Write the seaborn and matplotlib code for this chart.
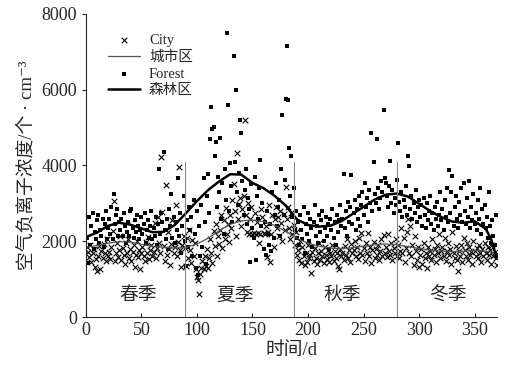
import numpy as np
import pandas as pd
import seaborn as sns
import matplotlib.pyplot as plt

# daily air negative ion concentration (per cm^3), day 1..370
city = [
    1850, 1720, 1580, 1900, 1450, 1680, 1790, 1320, 1530, 1210,
    1620, 1880, 1270, 1750, 1560, 1930, 1680, 1480, 2050, 1600,
    1720, 1540, 1850, 2280, 3060, 1470, 1690, 1950, 1580, 1760,
    2150, 1520, 1830, 1640, 1390, 1950, 1700, 2070, 1560, 1800,
    1480, 1720, 1910, 1330, 1650, 2020, 1590, 1780, 1260, 1700,
    1850, 1600, 1470, 1990, 1680, 2120, 1540, 1760, 1890, 1620,
    1720, 2480, 1560, 1830, 2650, 1950, 1700, 4230, 2780, 1880,
    1480, 3480, 1650, 2240, 1790, 1380, 1920, 2560, 1700, 1850,
    2950, 1600, 1980, 3970, 1760, 1330, 1900, 2150, 1820, 1350,
    2080, 1550, 2300, 1780, 1420, 2040, 1600, 1950, 1280, 1050,
    980, 620, 1150, 1300, 1480, 1260, 1620, 1350, 1800, 1290,
    1560, 2050, 1700, 1420, 2280, 1880, 2450, 1610, 2150, 1940,
    2300, 2700, 1820, 2550, 2060, 2890, 2200, 2450, 1980, 2700,
    2350, 3100, 3500, 2800, 2150, 4340, 2600, 2980, 3150, 2400,
    2850, 3200, 5200, 2700, 2250, 3000, 2180, 2600, 2900, 2200,
    2220, 2750, 2180, 2500, 2230, 1950, 2200, 2860, 2650, 2210,
    2180, 2400, 1590, 2240, 2950, 1460, 2200, 2700, 1850, 2580,
    2900, 2350, 2650, 2150, 2800, 2480, 2000, 2720, 2300, 3440,
    2600, 2900, 2350, 2050, 2750, 2200, 2420, 1900, 2250, 1650,
    1780, 1500, 2000, 1420, 1850, 1600, 1380, 1700, 1450, 1900,
    1550, 1640, 1170, 1720, 1480, 1820, 1560, 1400, 1680, 1950,
    1500, 1750, 1600, 1420, 1860, 1650, 1530, 1780, 1450, 1700,
    1620, 1900, 1480, 1740, 1560, 1680, 1350, 1270, 1800, 1600,
    1700, 1520, 1880, 1640, 2050, 1560, 1780, 1450, 1920, 1680,
    1760, 2000, 1600, 1850, 1540, 2100, 1700, 2230, 1650, 1820,
    1480, 1950, 1700, 2230, 1600, 1850, 1420, 1760, 1980, 1550,
    1800, 1650, 1900, 1520, 1750, 2050, 1600, 2160, 1700, 1850,
    1580, 2200, 1750, 1650, 1950, 1500, 1820, 1700, 2050, 1600,
    1900, 1550, 1750, 2350, 1680, 2100, 1450, 1820, 2250, 2600,
    1700, 2400, 1600, 1900, 1380, 2150, 1750, 1500, 1850, 1320,
    1650, 1800, 1400, 1950, 1550, 1700, 1300, 1850, 1600, 1750,
    1500, 2050, 1650, 1800, 1450, 1900, 1700, 2200, 1550, 1750,
    1850, 1600, 2100, 1480, 1750, 1950, 1650, 1800, 1400, 2250,
    1700, 1550, 1880, 1500, 1220, 1750, 1620, 1900, 1450, 2100,
    1780, 1600, 1950, 1500, 1850, 1650, 1720, 1400, 2000, 1750,
    1600, 1820, 1550, 1900, 1680, 1450, 1800, 1620, 1950, 1700,
    1500, 1850, 1650, 1780, 1400, 1900, 1600, 1720, 1550, 1380,
]
forest = [
    2100, 1420, 2650, 1900, 2400, 2750, 1800, 2250, 2050, 2550,
    2700, 1950, 2300, 2150, 2600, 1850, 2450, 2800, 2050, 2350,
    2600, 2200, 2900, 2050, 3240, 2450, 2700, 2850, 2150, 2500,
    2300, 2600, 2150, 2750, 2400, 1950, 2250, 2500, 2150, 2800,
    2850, 2350, 2100, 2550, 2250, 2700, 2400, 2050, 2300, 2650,
    2200, 2450, 2750, 1950, 2300, 2550, 2100, 2400, 2800, 2050,
    2350, 2150, 2650, 1900, 2450, 3900, 2200, 2750, 2500, 4360,
    2300, 2050, 2600, 1800, 2850, 2400, 3250, 2100, 2650, 1950,
    2500, 2300, 3670, 2150, 2750, 1700, 2400, 3200, 2000, 1350,
    2550, 1850, 2900, 2300, 2650, 1600, 3100, 2200, 1300, 2800,
    1100, 2400, 1600, 2950, 1850, 3660, 2500, 1400, 3200, 3770,
    2750, 4690, 5535, 4950, 5010, 4260, 4630, 2900, 3700, 3300,
    4730, 2600, 3550, 2200, 3900, 3100, 7490, 5590, 2800, 4070,
    3450, 2500, 6900, 4100, 5990, 3300, 2950, 3800, 5210, 4860,
    3600, 2700, 3350, 3900, 2450, 3150, 2850, 1450, 3500, 2350,
    2100, 3700, 1500, 3200, 2600, 3400, 4140, 2400, 3000, 1800,
    2500, 1650, 2800, 2200, 1900, 2450, 1750, 3300, 2100, 2700,
    3550, 2400, 2900, 3100, 2150, 3920, 5330, 2700, 3620, 5760,
    7140, 5740, 4460, 3200, 4240, 2650, 3400, 2300, 2800, 2100,
    2500, 1900, 2700, 2300, 2050, 2900, 1700, 2450, 2200, 2750,
    2000, 2600, 2350, 1850, 2500, 2950, 2150, 2400, 1950, 2700,
    2250, 2550, 2800, 2000, 2350, 2650, 2150, 2450, 1800, 2600,
    2300, 2850, 2100, 2500, 1900, 2700, 2250, 2550, 2950, 2400,
    2600, 3780, 2350, 2800, 2150, 3050, 2500, 2900, 3760, 2450,
    2750, 3100, 2300, 2850, 2600, 3200, 2400, 2950, 3300, 2700,
    3550, 2900, 3150, 2500, 3350, 3000, 4870, 2800, 4090, 3250,
    3000, 4690, 3400, 2850, 3150, 3600, 3300, 5460, 3670, 3540,
    3200, 2900, 3460, 4120, 3000, 3350, 2750, 3150, 2950, 3620,
    4600, 3050, 2800, 3300, 2650, 3100, 2900, 3450, 2700, 4260,
    3990, 2850, 3200, 2600, 3000, 2750, 3350, 2500, 2900, 3100,
    2650, 2950, 2400, 3150, 2700, 2350, 3000, 2550, 2800, 3200,
    2450, 2750, 2300, 2900, 2600, 3050, 2400, 2700, 3300, 2550,
    2850, 2300, 3100, 2650, 3400, 2500, 3870, 2750, 3300, 3720,
    2400, 2900, 3200, 2600, 2350, 3050, 2700, 3400, 2500, 3550,
    2800, 2450, 3150, 2650, 3600, 2350, 2900, 2550, 3250, 2450,
    2750, 2300, 3100, 2600, 3400, 2200, 2850, 2450, 2950, 2350,
    2650, 2100, 3300, 2400, 1950, 2550, 2150, 1900, 2700, 1650,
]
days = np.arange(1, len(city) + 1)

# fitted trend curves, read every 10 days
curve_days = [0, 10, 20, 30, 40, 50, 60, 70, 80, 90, 100, 110, 120, 130, 140,
              150, 160, 170, 180, 190, 200, 210, 220, 230, 240, 250, 260, 270,
              280, 290, 300, 310, 320, 330, 340, 350, 360, 365, 370]
city_curve = [1840, 1890, 1950, 1990, 1980, 1920, 1870, 1840, 1820, 1840, 1930,
              2080, 2280, 2450, 2540, 2560, 2520, 2420, 2260, 2080, 1950, 1870,
              1820, 1810, 1830, 1870, 1910, 1930, 1910, 1860, 1810, 1770, 1740,
              1730, 1740, 1760, 1740, 1710, 1680]
forest_curve = [2110, 2230, 2410, 2490, 2440, 2340, 2240, 2250, 2430, 2740, 3060,
                3350, 3580, 3770, 3760, 3540, 3400, 3200, 2940, 2580, 2430, 2390,
                2410, 2530, 2720, 2910, 3100, 3230, 3260, 3180, 2990, 2800, 2640,
                2520, 2490, 2530, 2330, 2050, 1550]

season_bounds = [89, 187, 280]
season_names = ['春季', '夏季', '秋季', '冬季']
season_mid = [47, 134, 231, 326]

df = pd.DataFrame({'day': days, 'city': city, 'forest': forest})
cf = pd.DataFrame({'day': curve_days, 'city': city_curve, 'forest': forest_curve})

sns.set_style('ticks')
plt.rcParams['font.family'] = ['Liberation Serif', 'Noto Sans CJK SC', 'DejaVu Sans']

fig = plt.figure(figsize=(5.08, 3.74), dpi=100)
ax = fig.add_axes([0.169, 0.152, 0.809, 0.811])

sns.scatterplot(data=df, x='day', y='city', marker='x', color='black', s=16,
                linewidth=0.8, label='City', ax=ax)
sns.lineplot(data=cf, x='day', y='city', color='#555555', linewidth=0.9,
             label='城市区', ax=ax)
sns.scatterplot(data=df, x='day', y='forest', marker='s', color='black', s=7,
                linewidth=0, label='Forest', ax=ax)
sns.lineplot(data=cf, x='day', y='forest', color='black', linewidth=1.8,
             label='森林区', ax=ax)

for b in season_bounds:
    ax.plot([b, b], [0, 4100], color='#888888', linewidth=0.8)
for name, m in zip(season_names, season_mid):
    ax.text(m, 560, name, ha='center', va='center', fontsize=13.5)

ax.set_xlim(0, 370)
ax.set_ylim(0, 8000)
ax.set_xticks(range(0, 351, 50))
ax.set_yticks(range(0, 8001, 2000))
ax.tick_params(axis='x', direction='in', length=3, labelsize=13)
ax.tick_params(axis='y', direction='out', length=3, labelsize=13)
ax.set_xlabel('时间/d', fontsize=13.5, labelpad=2)
ax.set_ylabel('空气负离子浓度/个 · cm⁻³', fontsize=13.5, labelpad=4)
sns.despine(ax=ax)

ax.legend(loc='upper left', bbox_to_anchor=(0.04, 0.955), frameon=False,
          fontsize=10.5, handlelength=2.2, labelspacing=0.25, borderaxespad=0,
          handletextpad=0.6)

fig.savefig('out.png', dpi=100)
